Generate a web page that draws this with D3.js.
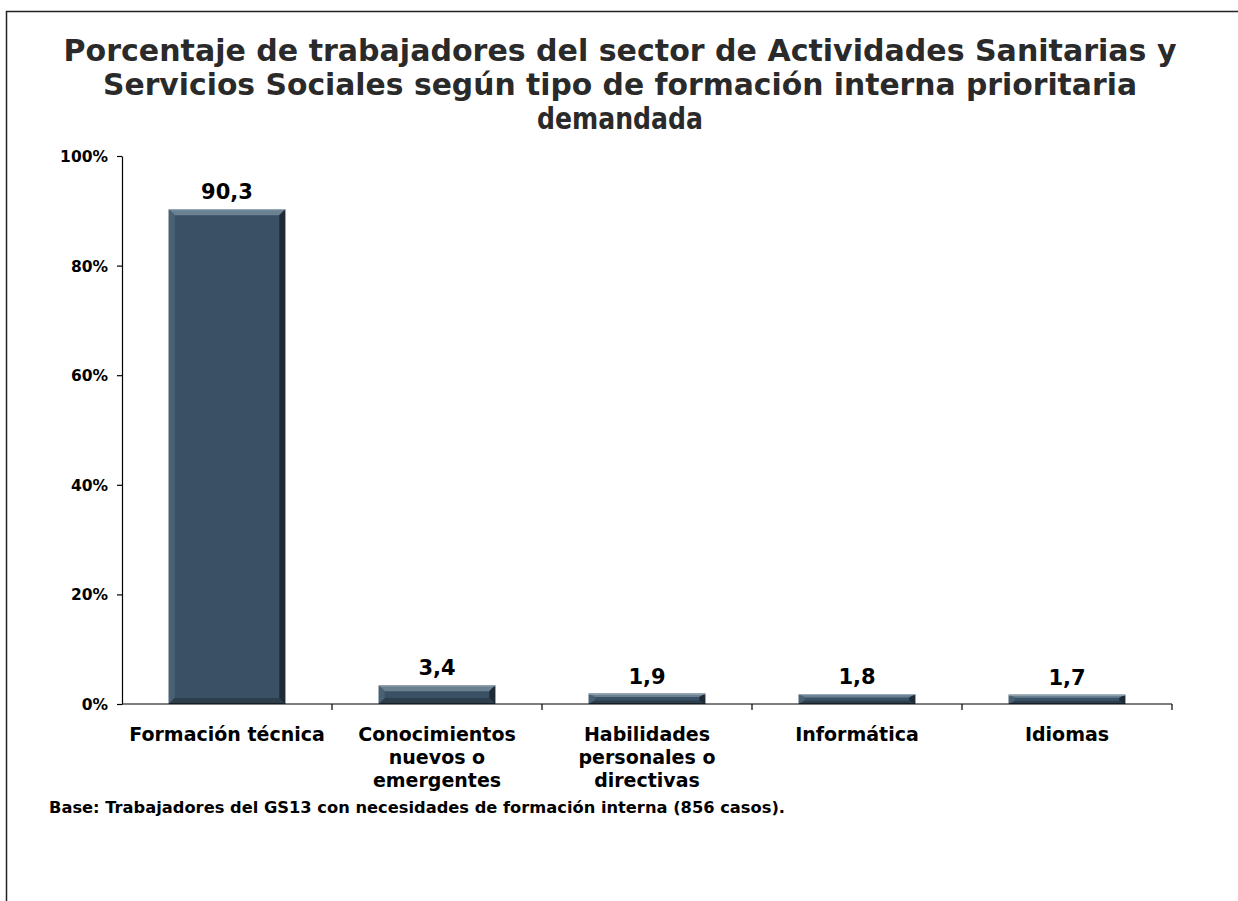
<!DOCTYPE html>
<html>
<head>
<meta charset="utf-8">
<script src="https://cdn.jsdelivr.net/npm/d3@7"></script>
<style>
  html, body { margin: 0; padding: 0; background: #fff; }
  svg { display: block; }
  text { font-family: "DejaVu Sans", Verdana, sans-serif; font-weight: bold; }
</style>
</head>
<body>
<svg id="chart" width="1238" height="901"></svg>
<script>
const titleLines = [
  "Porcentaje de trabajadores del sector de Actividades Sanitarias y",
  "Servicios Sociales según tipo de formación interna prioritaria",
  "demandada"
];
const categories = [
  ["Formación técnica"],
  ["Conocimientos", "nuevos o", "emergentes"],
  ["Habilidades", "personales o", "directivas"],
  ["Informática"],
  ["Idiomas"]
];
const values = [90.3, 3.4, 1.9, 1.8, 1.7];
const yTicks = [0, 20, 40, 60, 80, 100];
const footnote = "Base: Trabajadores del GS13 con necesidades de formación interna (856 casos).";

const svg = d3.select("#chart");
const W = 1238, H = 901;

// outer frame
svg.append("rect").attr("x", 6.5).attr("y", 11.5).attr("width", W).attr("height", H)
  .attr("fill", "#fff").attr("stroke", "#222").attr("stroke-width", 1.5);

// title
const titleW = [1113, 1034, 166];
svg.append("g").selectAll("text").data(titleLines).join("text")
  .attr("x", 620).attr("y", (d, i) => 61 + i * 34)
  .attr("text-anchor", "middle")
  .attr("font-family", "'DejaVu Sans Condensed', 'DejaVu Sans', sans-serif")
  .attr("font-size", 30)
  .attr("fill", "#2a2a2a")
  .attr("textLength", (d, i) => titleW[i])
  .attr("lengthAdjust", "spacingAndGlyphs")
  .text(d => d);

const pLeft = 122, pRight = 1172, pTop = 156, pBottom = 704;
const x = d3.scaleBand().domain(d3.range(values.length)).range([pLeft, pRight]).paddingInner(0.445).paddingOuter(0.2225);
const y = d3.scaleLinear().domain([0, 100]).range([pBottom, pTop]);

// bars with bevel
const base = "#3a5165";
const bev = 6;
const gBars = svg.append("g");
values.forEach((v, i) => {
  const x0 = x(i), x1 = x(i) + x.bandwidth();
  const y0 = y(v), y1 = y(0);
  const h = y1 - y0;
  const b = Math.min(bev, h / 3);
  const bs = bev;
  const g = gBars.append("g");
  g.append("rect").attr("x", x0).attr("y", y0).attr("width", x1 - x0).attr("height", h).attr("fill", base);
  g.append("polygon").attr("points", [[x0, y0], [x1, y0], [x1 - bs, y0 + b], [x0 + bs, y0 + b]].join(" ")).attr("fill", "#6a8192");
  g.append("polygon").attr("points", [[x0, y0], [x0 + bs, y0 + b], [x0 + bs, y1 - b], [x0, y1]].join(" ")).attr("fill", "#4a6173");
  g.append("polygon").attr("points", [[x1, y0], [x1, y1], [x1 - bs, y1 - b], [x1 - bs, y0 + b]].join(" ")).attr("fill", "#1e2b36");
  g.append("polygon").attr("points", [[x0, y1], [x1, y1], [x1 - bs, y1 - b], [x0 + bs, y1 - b]].join(" ")).attr("fill", "#2c3d4b");
  g.append("line").attr("x1", x0).attr("x2", x1).attr("y1", y0 + 0.5).attr("y2", y0 + 0.5).attr("stroke", "#9fb0bc").attr("stroke-width", 1);
});

// value labels
svg.append("g").selectAll("text").data(values).join("text")
  .attr("x", (d, i) => x(i) + x.bandwidth() / 2)
  .attr("y", d => y(d) - 10)
  .attr("text-anchor", "middle")
  .attr("font-size", 21)
  .attr("fill", "#000")
  .text(d => d3.format(".1f")(d).replace(".", ","));

// y axis
const yAxis = d3.axisLeft(y).tickValues(yTicks).tickFormat(d => d + "%").tickSize(5).tickSizeOuter(0);
const gy = svg.append("g").attr("transform", `translate(${pLeft},0)`).call(yAxis);
gy.select(".domain").attr("stroke", "#000").attr("stroke-width", 1.2);
gy.selectAll(".tick line").attr("stroke", "#000").attr("stroke-width", 1.2);
gy.selectAll(".tick text").attr("font-size", 15.5).attr("fill", "#000")
  .attr("font-family", "'DejaVu Sans', Verdana, sans-serif").attr("font-weight", "bold").attr("x", -14).attr("dy", "0.35em");

// x axis line and ticks between categories
const xEdges = d3.range(values.length + 1).map(i => pLeft + (pRight - pLeft) * i / values.length);
svg.append("line").attr("x1", pLeft).attr("x2", pRight).attr("y1", pBottom).attr("y2", pBottom).attr("stroke", "#000").attr("stroke-width", 1.2);
svg.append("g").selectAll("line").data(xEdges.slice(1)).join("line")
  .attr("x1", d => d).attr("x2", d => d).attr("y1", pBottom).attr("y2", pBottom + 6)
  .attr("stroke", "#000").attr("stroke-width", 1.2);

// category labels
const gc = svg.append("g");
categories.forEach((lines, i) => {
  gc.append("text")
    .attr("x", x(i) + x.bandwidth() / 2)
    .attr("y", 741)
    .attr("text-anchor", "middle")
    .attr("font-size", 19)
    .attr("fill", "#000")
    .selectAll("tspan").data(lines).join("tspan")
    .attr("x", x(i) + x.bandwidth() / 2)
    .attr("dy", (d, j) => j === 0 ? 0 : 23)
    .text(d => d);
});

// footnote
svg.append("text").attr("x", 49).attr("y", 813)
  .attr("font-size", 16).attr("fill", "#000")
  .attr("font-family", "'Liberation Sans', Arial, sans-serif")
  .attr("textLength", 736).attr("lengthAdjust", "spacingAndGlyphs")
  .text(footnote);
</script>
</body>
</html>
